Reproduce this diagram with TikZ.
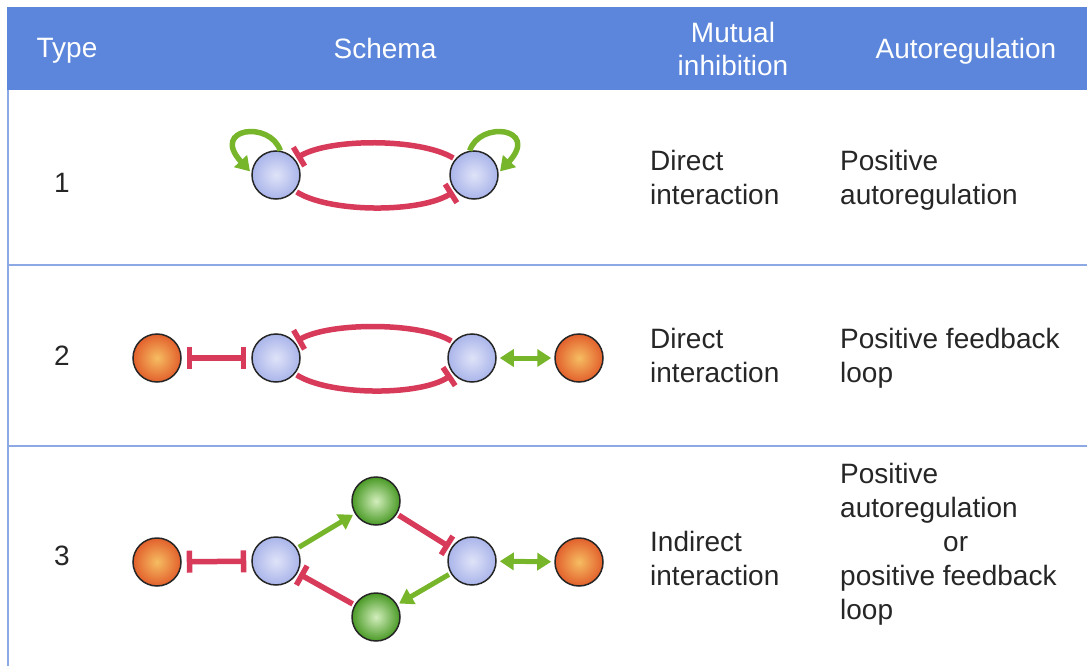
\documentclass[tikz,border=0pt]{standalone}
\usepackage{fontspec}
\setmainfont{Liberation Sans}
\usetikzlibrary{arrows.meta}
\definecolor{headblue}{HTML}{5B86DB}
\definecolor{rulecol}{HTML}{8CA9E6}
\definecolor{inhred}{HTML}{D83A5A}
\definecolor{actgreen}{HTML}{77B52A}
\definecolor{blueedge}{HTML}{AAB5EA}
\definecolor{bluecore}{HTML}{DFE3F8}
\definecolor{orangeedge}{HTML}{E2602C}
\definecolor{orangecore}{HTML}{F6BD62}
\definecolor{greenedge}{HTML}{4A9A26}
\definecolor{greencore}{HTML}{D2EEBC}
\begin{document}
\begin{tikzpicture}[x=1pt,y=-1pt,
  ball/.style={circle, minimum size=48pt, inner sep=0pt, draw=black!85, line width=1.5pt},
  bluenode/.style={ball, inner color=bluecore, outer color=blueedge},
  orangenode/.style={ball, inner color=orangecore, outer color=orangeedge},
  greennode/.style={ball, inner color=greencore, outer color=greenedge},
  inh/.style={draw=inhred, line width=5.5pt, -{Bar[width=22pt]}, shorten >=2pt, shorten <=2pt},
  act/.style={draw=actgreen, line width=5pt, -{Triangle[width=17pt,length=14pt]}, shorten >=2pt, shorten <=2pt},
  bothact/.style={draw=actgreen, line width=5pt, {Triangle[width=17pt,length=14pt]}-{Triangle[width=17pt,length=14pt]}, shorten >=3pt, shorten <=3pt},
  bothinh/.style={draw=inhred, line width=5.5pt, {Bar[width=22pt]}-{Bar[width=22pt]}, shorten >=5pt, shorten <=5pt},
  body/.style={font=\fontsize{28}{34}\selectfont, text=black!85, inner sep=0pt},
  head/.style={font=\fontsize{28}{33}\selectfont, text=white, inner sep=0pt},
  rule/.style={draw=rulecol, line width=1.5pt}
]
\useasboundingbox (0,0) rectangle (1087,666);

% header band
\fill[headblue] (7,7) rectangle (1087,90);
\node[head] (hType) at (67,51) {Type};
\node[head] (hSchema) at (385,48) {Schema};
\node[head, align=center] (hMutual) at (733,48.5) {Mutual\\inhibition};
\node[head] (hAuto) at (966,51) {Autoregulation};

% table rules
\draw[rule] (8,90) -- (8,666);
\draw[rule] (8,265) -- (1087,265);
\draw[rule] (8,446) -- (1087,446);

% row numbers
\node[body] (n1) at (62,183) {1};
\node[body] (n2) at (62,356) {2};
\node[body] (n3) at (62,556) {3};

% row 1: two nodes with mutual inhibition and self-activation
\node[bluenode] (r1a) at (276,175) {};
\node[bluenode] (r1b) at (474,175) {};
\draw[inh] (r1b.140) .. controls (420,138) and (330,138) .. (r1a.40);
\draw[inh] (r1a.-40) .. controls (330,213) and (420,213) .. (r1b.-140);
\draw[act, line width=5.5pt, shorten <=0pt] (r1a.80) .. controls (270,120) and (210,128) .. (r1a.175);
\draw[act, line width=5.5pt, shorten <=0pt] (r1b.100) .. controls (480,120) and (540,128) .. (r1b.5);

% row 2: mutual inhibition with outer partners
\node[orangenode] (r2l) at (157,358) {};
\node[bluenode] (r2a) at (276,358) {};
\node[bluenode] (r2b) at (472,358) {};
\node[orangenode] (r2r) at (579,358) {};
\draw[inh] (r2b.140) .. controls (420,322) and (330,322) .. (r2a.40);
\draw[inh] (r2a.-40) .. controls (330,396) and (420,396) .. (r2b.-140);
\draw[bothinh] (r2l) -- (r2a);
\draw[bothact] (r2b) -- (r2r);

% row 3: indirect mutual inhibition through intermediates
\node[orangenode] (r3l) at (157,562) {};
\node[bluenode] (r3a) at (276,561) {};
\node[greennode] (r3t) at (376,501) {};
\node[greennode] (r3d) at (376,617) {};
\node[bluenode] (r3b) at (472,561) {};
\node[orangenode] (r3r) at (579,562) {};
\draw[bothinh] (r3l) -- (r3a);
\draw[bothact] (r3b) -- (r3r);
\draw[act] (r3a) -- (r3t);
\draw[inh] (r3t) -- (r3b);
\draw[act] (r3b) -- (r3d);
\draw[inh] (r3d) -- (r3a);

% mutual inhibition column
\node[body, align=left, anchor=west] (m1) at (650,177) {Direct\\interaction};
\node[body, align=left, anchor=west] (m2) at (650,355.5) {Direct\\interaction};
\node[body, align=left, anchor=west] (m3) at (650,558) {Indirect\\interaction};

% autoregulation column
\node[body, align=left, anchor=west] (a1) at (840,180) {Positive\\autoregulation};
\node[body, align=left, anchor=west] (a2) at (840,358.5) {Positive feedback\\loop};
\node[body, align=left, anchor=west] (a3) at (840,544.5) {Positive\\autoregulation\\\hspace*{103pt}or\\positive feedback\\loop};
\end{tikzpicture}
\end{document}
